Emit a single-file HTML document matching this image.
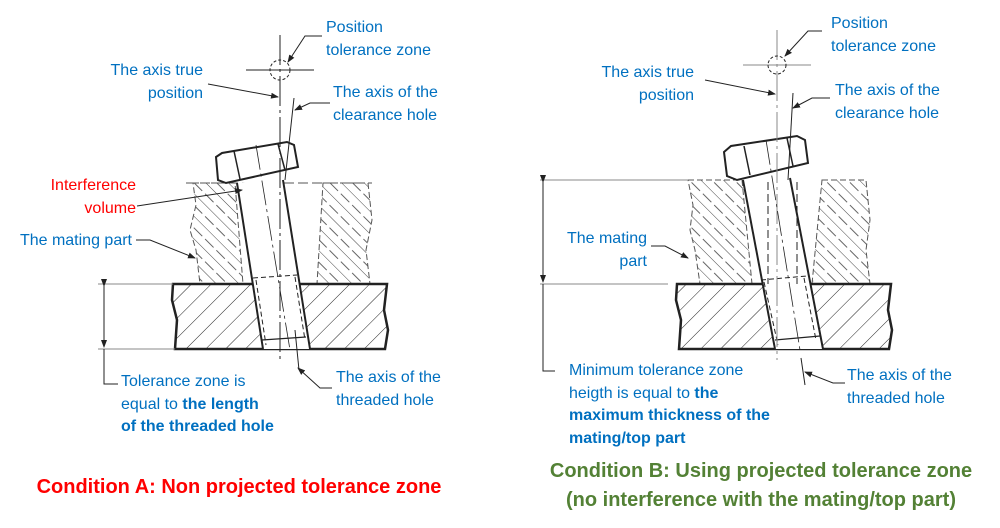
<!DOCTYPE html>
<html><head><meta charset="utf-8">
<style>
html,body{margin:0;padding:0;background:#fff;}
svg{display:block;}
text{font-family:"Liberation Sans",sans-serif;font-size:16px;fill:#0070c0;}
.b{font-weight:bold;}
</style></head><body>
<svg width="1000" height="528" viewBox="0 0 1000 528" xmlns="http://www.w3.org/2000/svg">
<defs>
<pattern id="h" width="14" height="14" patternUnits="userSpaceOnUse" patternTransform="rotate(45)">
<rect width="14" height="14" fill="#fff"/><line x1="0" y1="0" x2="0" y2="14" stroke="#222" stroke-width="1"/></pattern>
<pattern id="h2" width="16" height="16" patternUnits="userSpaceOnUse" patternTransform="rotate(-45)">
<rect width="16" height="16" fill="#fff"/><line x1="0" y1="0" x2="0" y2="16" stroke="#333" stroke-width="0.9"/><line x1="8" y1="0" x2="8" y2="16" stroke="#555" stroke-width="0.9" stroke-dasharray="6,4"/></pattern>
<marker id="a" markerWidth="8" markerHeight="6" refX="7" refY="3" orient="auto"><path d="M0,0 L8,3 L0,6z" fill="#222"/></marker>
</defs>

<!-- LEFT -->
<g stroke="#222" fill="none">
<path d="M193,183 L235,183 L243,284 L200,284 L196,250 L190,230 L196,205z" fill="url(#h2)" stroke="#555" stroke-dasharray="6,3"/>
<path d="M323,183 L368,183 L372,220 L366,250 L370,284 L317,284z" fill="url(#h2)" stroke="#555" stroke-dasharray="6,3"/>
<line x1="186" y1="183" x2="372" y2="183" stroke="#555" stroke-dasharray="10,4"/>
<path d="M173,284 L387,284 L384,310 L388,330 L385,349 L175,349 L177,320 L172,300z" fill="url(#h)" stroke-width="2.5"/>
<path d="M237,183 L283,180 L310,349 L263,349z" fill="#fff" stroke="none"/>
<line x1="237" y1="183" x2="263" y2="349" stroke-width="2"/>
<line x1="283" y1="180" x2="310" y2="349" stroke-width="2"/>
<line x1="253" y1="278" x2="297" y2="275" stroke-width="1" stroke-dasharray="5,3"/>
<line x1="262" y1="340" x2="306" y2="337" stroke-width="1.2"/>
<line x1="256" y1="280" x2="266" y2="345" stroke-dasharray="5,3"/>
<line x1="295" y1="277" x2="305" y2="340" stroke-dasharray="5,3"/>
<path d="M216,157 L222,153 L287,142 L294,145 L298,167 L226,183 L218,180z" fill="#fff" stroke-width="2"/>
<line x1="234" y1="151" x2="240" y2="179" stroke-width="1.5"/>
<line x1="278" y1="144" x2="285" y2="170" stroke-width="1.5"/>
<line x1="280" y1="35" x2="280" y2="360" stroke-width="1" stroke-dasharray="30,4,3,4"/>
<line x1="246" y1="70" x2="314" y2="70" stroke-width="1"/>
<circle cx="280" cy="70" r="10" stroke-dasharray="3,2"/>
<line x1="256" y1="145" x2="290" y2="350" stroke-dasharray="25,4,3,4" stroke-width="0.8"/>
<line x1="294" y1="98" x2="285" y2="180" stroke-width="1"/>
<line x1="295" y1="330" x2="299" y2="370" stroke-width="1"/>
<path d="M322,36 L305,36 L288,62" marker-end="url(#a)"/>
<path d="M208,84 L278,97" marker-end="url(#a)"/>
<path d="M330,103 L310,103 L295,110" marker-end="url(#a)"/>
<path d="M137,206 L242,190" marker-end="url(#a)"/>
<path d="M136,240 L150,240 L195,258" marker-end="url(#a)"/>
<path d="M332,388 L320,388 L298,368" marker-end="url(#a)"/>
<line x1="98" y1="284" x2="173" y2="284" stroke="#888"/>
<line x1="98" y1="349" x2="175" y2="349" stroke="#888"/>
<line x1="104" y1="286" x2="104" y2="347" marker-start="url(#a)" marker-end="url(#a)"/>
<path d="M104,349 L104,384 L118,384"/>
</g>
<text x="326" y="32">Position</text>
<text x="326" y="55">tolerance zone</text>
<text x="203" y="75" text-anchor="end">The axis true</text>
<text x="203" y="98" text-anchor="end">position</text>
<text x="333" y="97">The axis of the</text>
<text x="333" y="120">clearance hole</text>
<text x="136" y="190" text-anchor="end" style="fill:#ff0000">Interference</text>
<text x="136" y="213" text-anchor="end" style="fill:#ff0000">volume</text>
<text x="132" y="245" text-anchor="end">The mating part</text>
<text x="121" y="386">Tolerance zone is</text>
<text x="121" y="409">equal to <tspan class="b">the length</tspan></text>
<text x="121" y="431" class="b">of the threaded hole</text>
<text x="336" y="382">The axis of the</text>
<text x="336" y="405">threaded hole</text>
<text x="239" y="493" text-anchor="middle" class="b" style="fill:#ff0000;font-size:20px">Condition A: Non projected tolerance zone</text>

<!-- RIGHT -->
<g stroke="#222" fill="none">
<path d="M688,180 L742,180 L752,284 L700,284 L695,250 L690,230 L693,205z" fill="url(#h2)" stroke="#555" stroke-dasharray="6,3"/>
<path d="M822,180 L866,180 L870,220 L866,250 L870,284 L812,284z" fill="url(#h2)" stroke="#555" stroke-dasharray="6,3"/>
<path d="M677,284 L891,284 L888,310 L892,330 L889,349 L679,349 L681,320 L676,300z" fill="url(#h)" stroke-width="2.5"/>
<path d="M743,180 L790,178 L823,349 L775,349z" fill="#fff" stroke="none"/>
<line x1="743" y1="180" x2="775" y2="349" stroke-width="2"/>
<line x1="790" y1="178" x2="823" y2="349" stroke-width="2"/>
<line x1="761" y1="280" x2="807" y2="276" stroke-width="1" stroke-dasharray="5,3"/>
<line x1="775" y1="340" x2="820" y2="336" stroke-width="1.2"/>
<line x1="764" y1="282" x2="778" y2="345" stroke-dasharray="5,3"/>
<line x1="804" y1="278" x2="816" y2="340" stroke-dasharray="5,3"/>
<line x1="768" y1="182" x2="768" y2="284" stroke-dasharray="8,4"/>
<line x1="797" y1="182" x2="797" y2="284" stroke-dasharray="8,4"/>
<path d="M724,152 L731,146 L797,136 L805,140 L808,163 L737,180 L727,176z" fill="#fff" stroke-width="2"/>
<line x1="744" y1="146" x2="750" y2="175" stroke-width="1.5"/>
<line x1="787" y1="138" x2="793" y2="166" stroke-width="1.5"/>
<line x1="777" y1="30" x2="777" y2="360" stroke-width="1" stroke="#888" stroke-dasharray="30,4,3,4"/>
<line x1="743" y1="65" x2="811" y2="65" stroke="#888"/>
<circle cx="777" cy="65" r="9" stroke-dasharray="3,2"/>
<line x1="766" y1="140" x2="800" y2="350" stroke-dasharray="25,4,3,4" stroke-width="0.8"/>
<line x1="793" y1="93" x2="788" y2="180" stroke-width="1"/>
<line x1="801" y1="358" x2="805" y2="385" stroke-width="1"/>
<path d="M822,31 L808,31 L785,56" marker-end="url(#a)"/>
<path d="M705,80 L775,94" marker-end="url(#a)"/>
<path d="M830,98 L812,98 L793,108" marker-end="url(#a)"/>
<path d="M651,246 L665,246 L688,258" marker-end="url(#a)"/>
<path d="M845,383 L833,383 L805,372" marker-end="url(#a)"/>
<line x1="540" y1="180" x2="688" y2="180" stroke="#888"/>
<line x1="540" y1="284" x2="668" y2="284" stroke="#888"/>
<line x1="543" y1="182" x2="543" y2="282" marker-start="url(#a)" marker-end="url(#a)"/>
<path d="M543,284 L543,371 L555,371"/>
</g>
<text x="831" y="28">Position</text>
<text x="831" y="51">tolerance zone</text>
<text x="694" y="77" text-anchor="end">The axis true</text>
<text x="694" y="100" text-anchor="end">position</text>
<text x="835" y="95">The axis of the</text>
<text x="835" y="118">clearance hole</text>
<text x="647" y="243" text-anchor="end">The mating</text>
<text x="647" y="266" text-anchor="end">part</text>
<text x="569" y="375">Minimum tolerance zone</text>
<text x="569" y="398">heigth is equal to <tspan class="b">the</tspan></text>
<text x="569" y="420" class="b">maximum thickness of the</text>
<text x="569" y="443" class="b">mating/top part</text>
<text x="847" y="380">The axis of the</text>
<text x="847" y="403">threaded hole</text>
<text x="761" y="477" text-anchor="middle" class="b" style="fill:#538135;font-size:20px">Condition B: Using projected tolerance zone</text>
<text x="761" y="506" text-anchor="middle" class="b" style="fill:#538135;font-size:20px">(no interference with the mating/top part)</text>
</svg>
</body></html>
